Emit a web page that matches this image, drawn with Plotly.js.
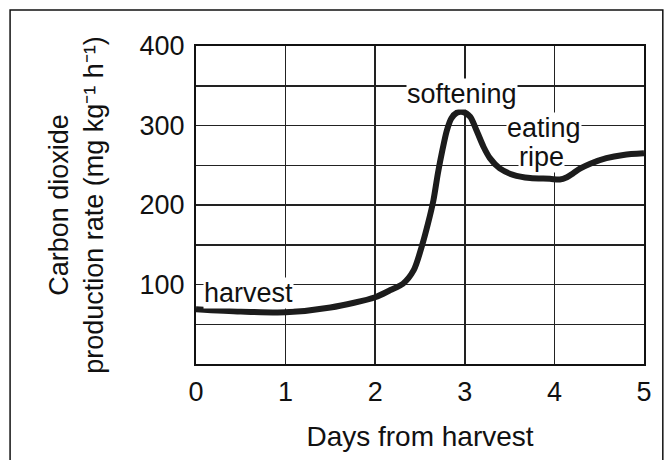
<!DOCTYPE html>
<html>
<head>
<meta charset="utf-8">
<script src="https://cdn.plot.ly/plotly-3.0.1.min.js"></script>
<style>html,body{margin:0;padding:0;background:#fff;}#chart{width:664px;height:460px;}</style>
</head>
<body>
<div id="chart"></div>
<script>
// Days from harvest
var days = [0, 0.5, 1, 1.5, 2, 2.17, 2.31, 2.43, 2.52, 2.59, 2.65, 2.70, 2.75, 2.80, 2.85, 2.91, 2.98, 3.06, 3.13, 3.21, 3.28, 3.39, 3.54, 3.73, 3.95, 4.06, 4.14, 4.21, 4.29, 4.40, 4.58, 4.77, 5.0];
// CO2 production rate (mg kg-1 h-1)
var co2 = [69, 66, 65, 71, 84, 93, 101, 118, 148, 177, 206, 240, 269, 294, 309, 316, 317, 311, 294, 273, 259, 246, 238, 234, 233, 232, 235, 240, 246, 252, 259, 263, 265];

var yTickVals = [100, 200, 300, 400];
var yTickText = ['100', '200', '300', '400'];
var xTickVals = [0, 1, 2, 3, 4, 5];
var xTickText = ['0', '1', '2', '3', '4', '5'];

var stageLabels = ['harvest', 'softening', 'eating', 'ripe'];
var stageX = [0.08, 2.97, 3.88, 3.86];
var stageY = [89, 340, 297, 260];
var stageAnchor = ['left', 'center', 'center', 'center'];

var font = 'Liberation Sans, Arial, Helvetica, sans-serif';
var ink = '#111';
var fs = 27;

var annotations = stageLabels.map(function (t, i) {
  return {
    text: t, x: stageX[i], y: stageY[i], xref: 'x', yref: 'y',
    xanchor: stageAnchor[i], yanchor: 'middle', showarrow: false,
    bgcolor: '#fff', borderpad: 0,
    font: {family: font, size: fs, color: ink}
  };
});

var trace = {
  x: days, y: co2, type: 'scatter', mode: 'lines',
  line: {color: '#1c1c1c', width: 6, shape: 'spline', smoothing: 0.8},
  hoverinfo: 'skip', showlegend: false
};

var layout = {
  width: 664, height: 460,
  margin: {l: 196, r: 20, t: 46, b: 96},
  paper_bgcolor: '#fff', plot_bgcolor: '#fff',
  font: {family: font, size: fs, color: ink},
  showlegend: false,
  xaxis: {
    range: [0, 5], tickvals: xTickVals, ticktext: xTickText,
    showgrid: true, gridcolor: '#222', gridwidth: 1.5,
    showline: true, linecolor: '#111', linewidth: 2, mirror: true,
    zeroline: false, ticks: '', ticklabelstandoff: 3,
    tickfont: {family: font, size: fs, color: ink},
    title: {text: 'Days from harvest', standoff: 20, font: {family: font, size: 28, color: ink}}
  },
  yaxis: {
    range: [0, 400], tickvals: yTickVals, ticktext: yTickText,
    showgrid: true, gridcolor: '#222', gridwidth: 1.5,
    minor: {dtick: 50, tick0: 0, showgrid: true, gridcolor: '#222', gridwidth: 1.5, ticks: ''},
    showline: true, linecolor: '#111', linewidth: 2, mirror: true,
    zeroline: false, ticks: '', ticklabelstandoff: 4,
    tickfont: {family: font, size: fs, color: ink},
    title: {text: 'Carbon dioxide<br>production rate (mg kg\u207B\u00B9 h\u207B\u00B9)', standoff: 28,
            font: {family: font, size: fs, color: ink}}
  },
  annotations: annotations,
  shapes: [{
    type: 'rect', xref: 'paper', yref: 'paper',
    x0: -0.415, x1: 1.042, y0: -0.4, y1: 1.113,
    line: {color: '#111', width: 1.5}, fillcolor: 'rgba(0,0,0,0)', layer: 'below'
  }]
};

Plotly.newPlot('chart', [trace], layout, {staticPlot: true, displayModeBar: false});
</script>
</body>
</html>
